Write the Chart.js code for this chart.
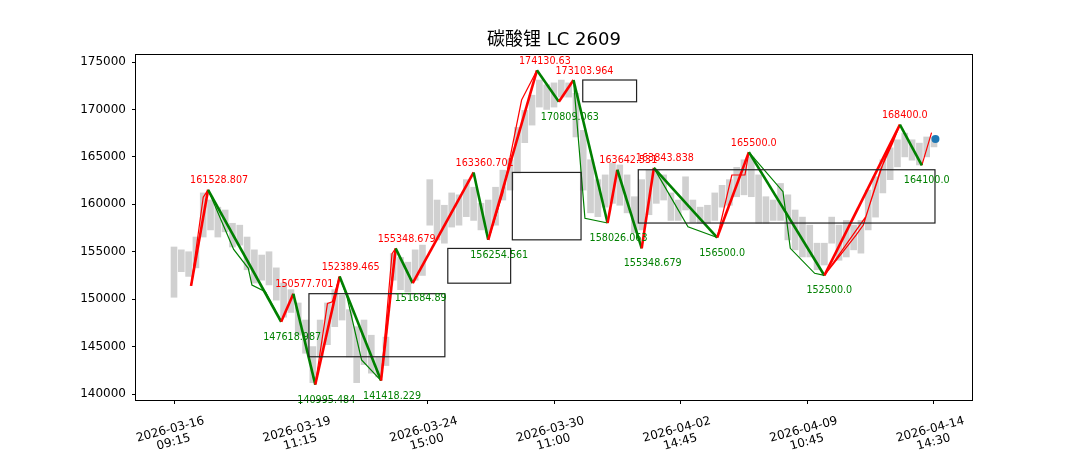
<!DOCTYPE html>
<html>
<head>
<meta charset="utf-8">
<title>碳酸锂 LC 2609</title>
<script src="https://cdn.jsdelivr.net/npm/chart.js@4.4.1/dist/chart.umd.min.js"></script>
<style>
  html, body { margin: 0; padding: 0; background: #fff; }
  canvas { display: block; }
</style>
</head>
<body>
<canvas id="chart" width="1080" height="450"></canvas>
<script>
// x axis: bar index, labelled with bar times
const tickIdx = [0, 52, 104, 156, 208, 260, 312]
const tickLabels = [
    ['2026-03-16', '09:15'],
    ['2026-03-19', '11:15'],
    ['2026-03-24', '15:00'],
    ['2026-03-30', '11:00'],
    ['2026-04-02', '14:45'],
    ['2026-04-09', '10:45'],
    ['2026-04-14', '14:30']
]
const yTicks = [140000, 145000, 150000, 155000, 160000, 165000, 170000, 175000]

// gray price bars (low / high)
const grayIdx = [0, 3, 6, 9, 12, 15, 18, 21, 24, 27, 30, 33, 36, 39, 42, 45, 48, 51, 54, 57,
    60, 63, 66, 69, 72, 75, 78, 81, 84, 87, 90, 93, 96, 99, 102, 105, 108, 111, 114, 117,
    120, 123, 126, 129, 132, 135, 138, 141, 144, 147, 150, 153, 156, 159, 162, 165, 168, 171, 174, 177,
    180, 183, 186, 189, 192, 195, 198, 201, 204, 207, 210, 213, 216, 219, 222, 225, 228, 231, 234, 237,
    240, 243, 246, 249, 252, 255, 258, 261, 264, 267, 270, 273, 276, 279, 282, 285, 288, 291, 294, 297,
    300, 303, 306, 309, 312]
const grayHigh = [155500, 155200, 155000, 156550, 161200, 160450, 159700, 159400, 158000, 157800,
    156550, 155200, 154650, 155000, 153300, 151700, 151000, 149600, 147800, 145000,
    147800, 149600, 151000, 150400, 148900, 147100, 147800, 146200, 143900, 146000,
    154800, 154400, 153900, 155200, 155700, 162600, 160450, 159900, 161200, 161000,
    162600, 161800, 160100, 160450, 161800, 163600, 164700, 168100, 169900, 171500,
    173100, 172600, 172800, 173100, 172800, 171700, 167800, 164700, 162600, 163100,
    164350, 164150, 163100, 160800, 162600, 163600, 163600, 163100, 161200, 160450,
    162900, 160450, 159700, 159900, 161200, 162000, 162600, 163900, 164700, 165000,
    163100, 160800, 160450, 162200, 161000, 159400, 158650, 157800, 155900, 155900,
    158650, 157800, 158300, 157800, 158300, 161500, 162900, 164700, 165950, 166800,
    167500, 166800, 166450, 167100, 167100]
const grayLow = [150200, 152900, 152400, 153300, 156550, 157300, 156550, 157100, 155500, 155700,
    153100, 151700, 152000, 151500, 149900, 148100, 148600, 146200, 144300, 141200,
    143900, 145200, 147100, 147800, 143900, 141200, 143100, 142200, 141800, 143000,
    152000, 151000, 150750, 152000, 152500, 157800, 156250, 155900, 157600, 157800,
    158700, 158300, 157300, 157000, 157800, 160450, 161500, 163300, 166500, 168350,
    170250, 170000, 170250, 171300, 171300, 167100, 161500, 159100, 158700, 159700,
    160100, 159900, 159100, 157000, 157300, 158900, 160100, 160450, 158300, 158300,
    159400, 158100, 158000, 158000, 158300, 159700, 159900, 160800, 161000, 160800,
    158000, 158000, 158300, 158300, 156250, 155200, 154450, 154450, 153100, 153600,
    155900, 154100, 154450, 155200, 154850, 157300, 158650, 161200, 162600, 163950,
    165000, 164650, 164150, 165000, 166050]

// main zigzag pivots
const pivotIdx = [7, 14, 44, 49, 58, 68, 85, 91, 98, 123, 129, 149, 158, 164, 178, 182, 192, 197, 223, 236, 267, 298, 307]
const pivotVal = [151400, 161528.807, 147618.987, 150577.701, 140995.484, 152389.465, 141418.229, 155348.679,
    151684.89, 163360.701, 156254.561, 174130.63, 170809.063, 173103.964, 158026.063, 163642.531,
    155348.679, 163843.838, 156500.0, 165500.0, 152500.0, 168400.0, 164100.0]
const pivotText = ['', '161528.807', '147618.987', '150577.701', '140995.484', '152389.465', '141418.229', '155348.679',
    '151684.89', '163360.701', '156254.561', '174130.63', '170809.063', '173103.964', '158026.063', '163642.531',
    '155348.679', '163843.838', '156500.0', '165500.0', '152500.0', '168400.0', '164100.0']

// thin sub-swings (null = break)
const thinRedIdx = [7, 12, 14, null, 58, 63, 65, 68, null, 85, 89.5, 91, null, 129, 135, 142.7, 149, null,
    223, 229, 234.4, 236, null, 267, 280, 283, 290, 295, 298, null, 267, 284, 292, 298, null, 307, 311]
const thinRedVal = [151400, 160750, 161528.807, null, 140995.484, 149560, 149730, 152389.465, null,
    141418.229, 154800, 155348.679, null, 156254.561, 161160, 170990, 174130.63, null,
    156500, 163090, 163090, 165500, null, 152500, 156760, 157820, 163620, 166430, 168400, null,
    152500, 158700, 165000, 168400, null, 164100, 167550]
const thinGreenIdx = [14, 24.5, 30.5, 32, 37.5, 44, null, 68, 71, 77, 85, null, 164, 168.7, 178, null,
    197, 211, 223, null, 236, 250, 253, 263, 267]
const thinGreenVal = [161528.807, 155250, 153250, 151490, 150790, 147618.987, null,
    152389.465, 150260, 143590, 141418.229, null, 173103.964, 158520, 158026.063, null,
    163843.838, 157640, 156500, null, 165500, 161330, 155360, 152725, 152500]

// pivot boxes
const boxStart = [55.4, 112.4, 138.9, 167.8, 190.6]
const boxEnd = [111.2, 138.2, 167.1, 189.9, 312.4]
const boxLow = [143930, 151684.89, 156254.561, 170809.063, 158026.063]
const boxHigh = [150577.701, 155348.679, 163360.701, 173103.964, 163642.531]

// last price
const lastIdx = [312.6]
const lastVal = [166880]

const toPoints = (xs, ys) => xs.map((x, i) => ({ x: x === null ? NaN : x, y: ys[i] }))

Chart.defaults.font.family = '"DejaVu Sans", "Noto Sans CJK SC", sans-serif'
Chart.defaults.color = '#000'

// boxes, labels, frame, title, rotated x labels
const overlay = {
    id: 'overlay',
    afterDatasetsDraw(chart) {
        const { ctx } = chart
        const xs = chart.scales.x
        const ys = chart.scales.y
        ctx.save()
        ctx.strokeStyle = '#222'
        ctx.lineWidth = 1.2
        boxStart.forEach((b, i) => {
            const x0 = xs.getPixelForValue(b)
            const x1 = xs.getPixelForValue(boxEnd[i])
            const y0 = ys.getPixelForValue(boxHigh[i])
            const y1 = ys.getPixelForValue(boxLow[i])
            ctx.strokeRect(x0, y0, x1 - x0, y1 - y0)
        })
        // pivot labels
        ctx.font = '9.6px "DejaVu Sans"'
        ctx.textAlign = 'left'
        ctx.textBaseline = 'middle'
        pivotIdx.forEach((p, i) => {
            if (!pivotText[i]) return
            const px = xs.getPixelForValue(p)
            const py = ys.getPixelForValue(pivotVal[i])
            const isHigh = i > 0 ? pivotVal[i] > pivotVal[i - 1] : false
            ctx.fillStyle = isHigh ? '#ff0000' : '#008000'
            ctx.fillText(pivotText[i], px - 18, isHigh ? py - 9 : py + 15.5)
        })
        ctx.restore()
    },
    afterDraw(chart) {
        const { ctx, chartArea } = chart
        const xs = chart.scales.x
        ctx.save()
        ctx.strokeStyle = '#000'
        ctx.lineWidth = 1
        ctx.strokeRect(chartArea.left - 0.5, chartArea.top - 0.5, chartArea.width + 1, chartArea.height + 1)

        ctx.fillStyle = '#000'
        ctx.font = '18px "DejaVu Sans", "Noto Sans CJK SC"'
        ctx.textAlign = 'center'
        ctx.textBaseline = 'middle'
        ctx.fillText('碳酸锂 LC 2609', (chartArea.left + chartArea.right) / 2, 40)

        ctx.font = '12px "DejaVu Sans"'
        tickIdx.forEach((v, i) => {
            const px = xs.getPixelForValue(v)
            ctx.save()
            ctx.translate(px - 2, 436)
            ctx.rotate(-15 * Math.PI / 180)
            ctx.fillText(tickLabels[i][0], 0, -6.5)
            ctx.fillText(tickLabels[i][1], 0, 6.5)
            ctx.restore()
        })
        ctx.restore()
    }
}

new Chart(document.getElementById('chart'), {
    type: 'line',
    data: {
        datasets: [
            {
                type: 'bar',
                data: grayIdx.map((x, i) => ({ x: x, y: [grayLow[i], grayHigh[i]] })),
                backgroundColor: '#d0d0d0',
                barThickness: 6,
                grouped: false,
                order: 5
            },
            {
                data: toPoints(thinRedIdx, thinRedVal),
                borderColor: '#ff0000',
                borderWidth: 1.2,
                pointRadius: 0,
                spanGaps: false,
                order: 4
            },
            {
                data: toPoints(thinGreenIdx, thinGreenVal),
                borderColor: '#008000',
                borderWidth: 1.2,
                pointRadius: 0,
                spanGaps: false,
                order: 4
            },
            {
                data: toPoints(pivotIdx, pivotVal),
                borderWidth: 2.6,
                borderJoinStyle: 'round',
                pointRadius: 0,
                segment: {
                    borderColor: c => c.p1.parsed.y > c.p0.parsed.y ? '#ff0000' : '#008000'
                },
                order: 3
            },
            {
                type: 'scatter',
                data: toPoints(lastIdx, lastVal),
                backgroundColor: '#1f77b4',
                borderWidth: 0,
                pointRadius: 4,
                order: 2
            }
        ]
    },
    options: {
        responsive: false,
        animation: false,
        layout: { padding: { left: 0, top: 55, right: 108, bottom: 0 } },
        plugins: { legend: { display: false }, tooltip: { enabled: false }, title: { display: false } },
        scales: {
            x: {
                type: 'linear',
                min: -15.6,
                max: 327.6,
                offset: false,
                afterBuildTicks: s => { s.ticks = tickIdx.map(v => ({ value: v })) },
                afterFit: s => { s.height = 50 },
                ticks: { display: false },
                grid: { drawOnChartArea: false, tickLength: 4, color: '#000', offset: false },
                border: { display: false }
            },
            y: {
                min: 139370,
                max: 175740,
                afterBuildTicks: s => { s.ticks = yTicks.map(v => ({ value: v })) },
                afterFit: s => { s.width = 136 },
                ticks: { font: { size: 12 }, color: '#000', padding: 6, callback: v => String(v) },
                grid: { drawOnChartArea: false, tickLength: 4, color: '#000' },
                border: { display: false }
            }
        }
    },
    plugins: [overlay]
})
</script>
</body>
</html>
